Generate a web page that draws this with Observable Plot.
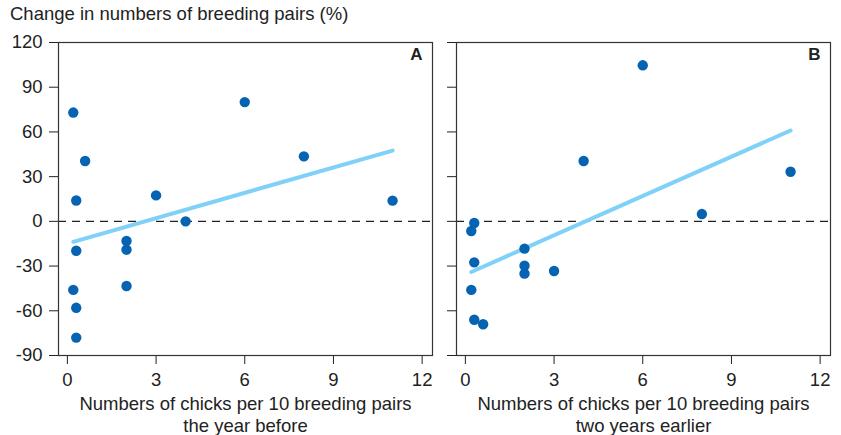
<!DOCTYPE html>
<html>
<head>
<meta charset="utf-8">
<script src="https://cdn.jsdelivr.net/npm/d3@7"></script>
<script src="https://cdn.jsdelivr.net/npm/@observablehq/plot@0.6"></script>
<style>
  html, body { margin: 0; padding: 0; background: #fff; }
  #wrap { position: relative; width: 841px; height: 435px; font-family: "Liberation Sans", Arial, sans-serif; color: #222; }
  #title { position: absolute; left: 10px; top: 3px; font-size: 18.5px; white-space: nowrap; }
  .panel { position: absolute; top: 0; }
</style>
</head>
<body>
<div id="wrap">
  <div id="title">Change in numbers of breeding pairs (%)</div>
  <div class="panel" id="pa" style="left:0px"></div>
  <div class="panel" id="pb" style="left:398px"></div>
</div>
<script>
// Panel A: chicks per 10 breeding pairs the year before vs change (%)
const chicksA = [0.2, 0.6, 0.3, 3, 6, 8, 11, 4, 0.3, 2, 2, 2, 0.2, 0.3, 0.3];
const changeA = [73, 40.5, 14, 17.4, 80, 43.6, 13.9, 0, -19.7, -13.2, -19, -43.4, -46, -58, -78];
// Panel B: chicks per 10 breeding pairs two years earlier vs change (%)
const chicksB = [6, 4, 11, 8, 0.3, 0.2, 0.3, 2, 2, 2, 3, 0.2, 0.3, 0.6];
const changeB = [104.7, 40.5, 33.3, 4.9, -1.1, -6.5, -27.5, -18.3, -29.8, -35.1, -33.3, -46, -66, -69];

const xTicks = [0, 3, 6, 9, 12];
const yTicks = [-90, -60, -30, 0, 30, 60, 90, 120];
const panelLabels = ["A", "B"];
const xLabels = [
  "Numbers of chicks per 10 breeding pairs\nthe year before",
  "Numbers of chicks per 10 breeding pairs\ntwo years earlier"
];

const dotColor = "#0563b2";
const lineColor = "#7fd1f7";
const ink = "#222";

function panel(xs, ys, label, xLabel, showYLabels) {
  const data = xs.map((x, i) => ({x, y: ys[i]}));
  return Plot.plot({
    width: 440,
    height: 435,
    marginTop: 42,
    marginBottom: 80,
    marginLeft: 58,
    marginRight: 8,
    style: {fontFamily: "'Liberation Sans', Arial, sans-serif", fontSize: "18.5px", color: ink, background: "transparent", overflow: "visible"},
    x: {domain: [-0.3, 12.35], ticks: xTicks, tickSize: 9, tickPadding: 8, label: null, tickFormat: d => String(d)},
    y: {domain: [-90, 120], ticks: yTicks, tickSize: 9, tickPadding: 7, label: null, tickFormat: showYLabels ? (d => String(d)) : (() => "")},
    marks: [
      Plot.ruleY([0], {stroke: ink, strokeWidth: 1.1, strokeDasharray: "8,6"}),
      Plot.linearRegressionY(data, {x: "x", y: "y", ci: 0, stroke: lineColor, strokeWidth: 4}),
      Plot.dot(data, {x: "x", y: "y", r: 5.2, fill: dotColor, stroke: "none"}),
      Plot.frame({stroke: "#333", strokeWidth: 1.2}),
      Plot.text([label], {frameAnchor: "top-right", text: d => d, dx: -10, dy: 5, lineAnchor: "top", fontWeight: "bold", fontSize: 17, fill: ink}),
      Plot.text([xLabel], {frameAnchor: "bottom", text: d => d, dy: 39, lineAnchor: "top", lineHeight: 1.2, fontSize: 18.5, fill: ink})
    ]
  });
}

document.getElementById("pa").appendChild(panel(chicksA, changeA, panelLabels[0], xLabels[0], true));
document.getElementById("pb").appendChild(panel(chicksB, changeB, panelLabels[1], xLabels[1], false));
</script>
</body>
</html>
